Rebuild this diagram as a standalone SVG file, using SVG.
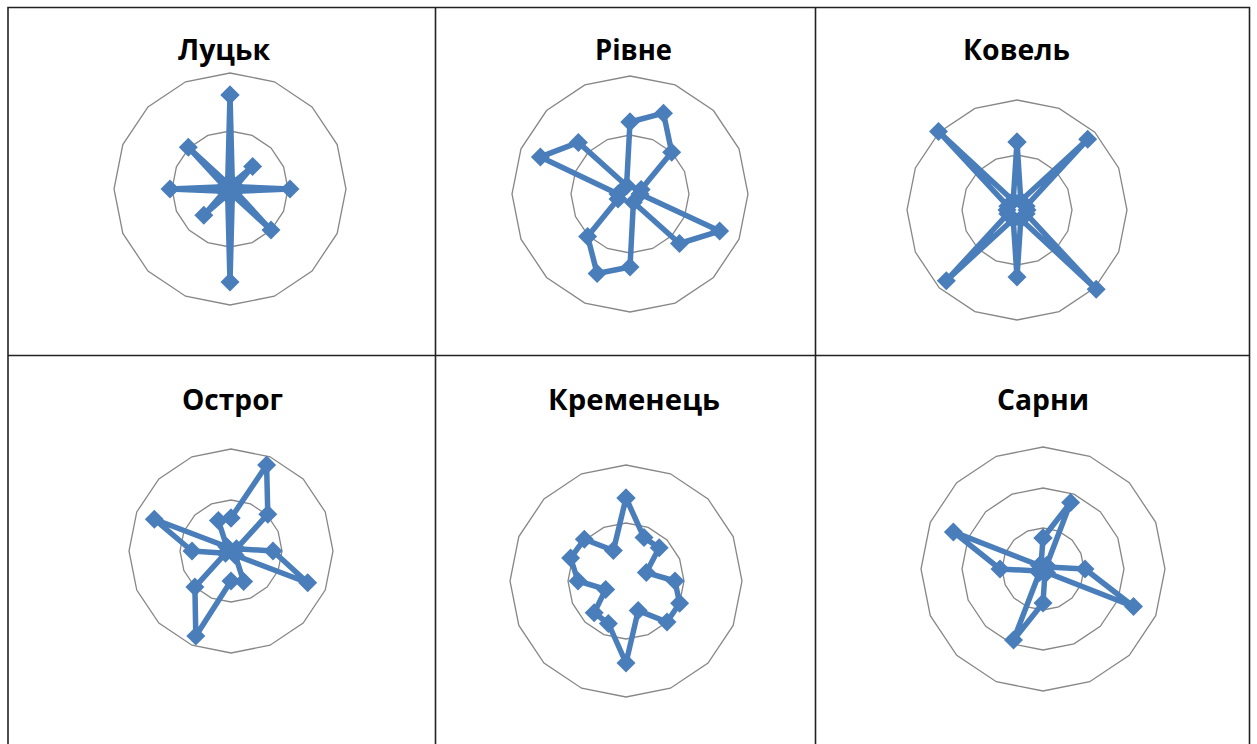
<svg xmlns="http://www.w3.org/2000/svg" xmlns:xlink="http://www.w3.org/1999/xlink" width="1257" height="744" viewBox="0 0 1257 744">
<style>
.ring{fill:none;stroke:#878787;stroke-width:1.3;vector-effect:non-scaling-stroke}
.series{fill:none;stroke:#4A7EBB;stroke-width:5.5;stroke-linejoin:round;marker-start:url(#dm);marker-mid:url(#dm);marker-end:url(#dm)}
.title{font-family:"Open Sans","Liberation Sans",sans-serif;font-weight:700;font-size:28px;fill:#000}
.grid{stroke:#222;stroke-width:1.6;fill:none}
</style>
<defs>
<polygon id="g16" class="ring" points="0,-1 0.38268,-0.92388 0.70711,-0.70711 0.92388,-0.38268 1,0 0.92388,0.38268 0.70711,0.70711 0.38268,0.92388 0,1 -0.38268,0.92388 -0.70711,0.70711 -0.92388,0.38268 -1,0 -0.92388,-0.38268 -0.70711,-0.70711 -0.38268,-0.92388"/>
<marker id="dm" markerUnits="userSpaceOnUse" markerWidth="20" markerHeight="20" refX="10" refY="10" overflow="visible">
<path d="M10 0.5 L19.5 10 L10 19.5 L0.5 10 Z" fill="#4A7EBB"/>
</marker>
</defs>
<rect width="1257" height="744" fill="#fff"/>
<g id="table-lines" class="grid">
<path d="M8 744 V7.5 H1249.5 V744"/>
<path d="M8 355.5 H1249.5"/>
<path d="M435.5 7.5 V744"/>
<path d="M815.5 7.5 V744"/>
</g>
<g id="chart-lutsk">
<text class="title" x="178" y="60" textLength="92" lengthAdjust="spacingAndGlyphs">Луцьк</text>
<use xlink:href="#g16" transform="translate(230,189) scale(58)"/>
<use xlink:href="#g16" transform="translate(230,189) scale(116)"/>
<polygon class="series" transform="translate(230,189)" points="0,-94 2.3,-5.5 22.6,-22.6 5.5,-2.3 60,0 5.5,2.3 41,41 2.3,5.5 0,93 -2.3,5.5 -26.2,26.2 -5.5,2.3 -60,0 -5.5,-2.3 -41.7,-41.7 -2.3,-5.5"/>
</g>
<g id="chart-rivne">
<text class="title" x="595" y="60" textLength="77" lengthAdjust="spacingAndGlyphs">Рівне</text>
<use xlink:href="#g16" transform="translate(630,194) scale(59)"/>
<use xlink:href="#g16" transform="translate(630,194) scale(118)"/>
<polygon class="series" transform="translate(630,194)" points="0,-72 33.5,-80.8 41.7,-41.7 11.1,-4.6 10,0 89.6,37.1 49.5,49.5 3.4,8.3 0,73 -32.9,79.5 -42.4,42.4 -12,5 -12,0 -89.6,-37.1 -51.6,-51.6 -3.4,-8.3"/>
</g>
<g id="chart-kovel">
<text class="title" x="963" y="60" textLength="107" lengthAdjust="spacingAndGlyphs">Ковель</text>
<use xlink:href="#g16" transform="translate(1017,210) scale(55)"/>
<use xlink:href="#g16" transform="translate(1017,210) scale(110)"/>
<polygon class="series" transform="translate(1017,210)" points="0,-68 3.8,-9.2 70.7,-70.7 9.2,-3.8 10,0 9.2,3.8 79.2,79.2 3.8,9.2 0,67 -3.8,9.2 -70.7,70.7 -9.2,3.8 -10,0 -9.2,-3.8 -78.5,-78.5 -3.8,-9.2"/>
</g>
<g id="chart-ostroh">
<text class="title" x="182" y="410" textLength="101" lengthAdjust="spacingAndGlyphs">Острог</text>
<use xlink:href="#g16" transform="translate(231,551) scale(51)"/>
<use xlink:href="#g16" transform="translate(231,551) scale(102)"/>
<polygon class="series" transform="translate(231,551)" points="0,-33 35.6,-85.9 36.8,-36.8 5.5,-2.3 42,0 76.7,31.8 4.2,4.2 12.6,30.5 0,30 -35.2,85 -36.1,36.1 -5.5,2.3 -39,0 -76.7,-31.8 -4.2,-4.2 -12.6,-30.5"/>
</g>
<g id="chart-kremenets">
<text class="title" x="548" y="410" textLength="172" lengthAdjust="spacingAndGlyphs">Кременець</text>
<use xlink:href="#g16" transform="translate(626,581) scale(58)"/>
<use xlink:href="#g16" transform="translate(626,581) scale(116)"/>
<polygon class="series" transform="translate(626,581)" points="0,-83 18,-43.4 33.2,-33.2 20.3,-8.4 49,0 53.6,22.2 41,41 12.2,29.6 0,82 -17.6,42.5 -31.8,31.8 -20.3,8.4 -48,0 -55.4,-23 -41.7,-41.7 -12.6,-30.5"/>
</g>
<g id="chart-sarny">
<text class="title" x="997" y="410" textLength="92" lengthAdjust="spacingAndGlyphs">Сарни</text>
<use xlink:href="#g16" transform="translate(1043,569) scale(41)"/>
<use xlink:href="#g16" transform="translate(1043,569) scale(81)"/>
<use xlink:href="#g16" transform="translate(1043,569) scale(122)"/>
<polygon class="series" transform="translate(1043,569)" points="0,-31 27.6,-66.5 3.5,-3.5 4.6,-1.9 42,0 90.5,37.5 3.5,3.5 1.9,4.6 0,34 -29.5,71.1 -3.5,3.5 -4.6,1.9 -43,0 -89.6,-37.1 -3.5,-3.5 -1.9,-4.6"/>
</g>
</svg>
